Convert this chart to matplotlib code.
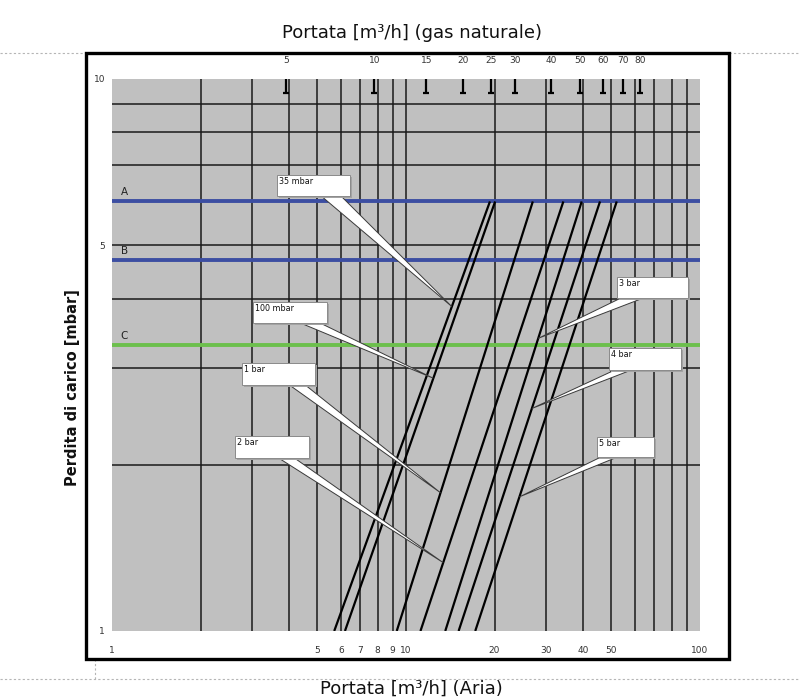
import numpy as np
import matplotlib
matplotlib.use("Agg")
import matplotlib.pyplot as plt
from matplotlib.patches import Rectangle, Polygon
from matplotlib.lines import Line2D
from matplotlib.path import Path
from matplotlib.transforms import Affine2D, blended_transform_factory

# ---------------- data ----------------
line_labels = ["35 mbar", "100 mbar", "1 bar", "2 bar", "3 bar", "4 bar", "5 bar"]
flow_at_low = [5.7, 6.2, 9.3, 11.2, 13.6, 15.1, 17.2]      # air flow [m3/h] at 1 mbar
flow_at_high = [19.3, 20.1, 27.0, 34.3, 39.6, 45.7, 52.1]  # air flow [m3/h] at 6 mbar
dp_low = 1.0
dp_high = 6.0
callout_tip_dp = [3.87, 2.87, 1.78, 1.33, 3.39, 2.53, 1.75]

ref_names = ["A", "B", "C"]
ref_values = [6.0, 4.7, 3.3]
ref_colors = ["#3c4ea2", "#3c4ea2", "#6cbf4c"]

x_tick_values = [1, 5, 6, 7, 8, 9, 10, 20, 30, 40, 50, 100]
y_tick_values = [1, 5, 10]
gas_tick_values = [5, 10, 15, 20, 25, 30, 40, 50, 60, 70, 80]
gas_to_air = 1.28
grid_x = [2, 3, 4, 5, 6, 7, 8, 9, 10, 20, 30, 40, 50, 60, 70, 80, 90]
grid_y = [2, 3, 4, 5, 6, 7, 8, 9]

# ---------------- layout ----------------
W, H = 800, 700
fig = plt.figure(figsize=(W / 100, H / 100), dpi=100)
fig.patch.set_facecolor("white")
px = Affine2D().scale(1 / W, -1 / H).translate(0, 1) + fig.transFigure

ax = fig.add_axes([112 / W, 1 - 631 / H, (700 - 112) / W, (631 - 79) / H])
ax.set_xscale("log")
ax.set_yscale("log")
ax.set_xlim(1, 100)
ax.set_ylim(1, 10)
ax.set_facecolor("#c0c0c0")
for s in ax.spines.values():
    s.set_visible(False)

for gx in grid_x:
    ax.axvline(gx, color="#1a1a1a", lw=1.1, zorder=1)
for gy in grid_y:
    ax.axhline(gy, color="#1a1a1a", lw=1.1, zorder=1)

ax.set_xticks(x_tick_values, labels=[str(v) for v in x_tick_values])
ax.set_xticks([], minor=True)
ax.set_yticks(y_tick_values, labels=[str(v) for v in y_tick_values])
ax.set_yticks([], minor=True)
ax.tick_params(axis="x", length=0, pad=11, labelsize=6.5, labelcolor="#333333")
ax.tick_params(axis="y", length=0, pad=5, labelsize=6.5, labelcolor="#333333")

sec = ax.secondary_xaxis("top", functions=(lambda x: x * gas_to_air,
                                           lambda x: x / gas_to_air))
sec.set_xticks(gas_tick_values, labels=[str(v) for v in gas_tick_values])
sec.set_xticks([], minor=True)
sec.tick_params(length=0, pad=10, labelsize=6.5, labelcolor="#333333")
for s in sec.spines.values():
    s.set_visible(False)

# gas tick markers (inverted T)
pin = Path([(0, 1), (0, -1), (-0.5, -1), (0.5, -1)],
           [Path.MOVETO, Path.LINETO, Path.MOVETO, Path.LINETO])
btrans = blended_transform_factory(ax.transData, ax.transAxes)
ax.plot(np.array(gas_tick_values) / gas_to_air, [0.987] * len(gas_tick_values),
        transform=btrans, ls="none", marker=pin, ms=10, mew=1.6, mec="black",
        clip_on=False, zorder=5)

# reference lines
for name, val, col in zip(ref_names, ref_values, ref_colors):
    ax.axhline(val, color=col, lw=2.8, zorder=3)
    ax.annotate(name, (1.07, val), xytext=(0, 3), textcoords="offset points",
                ha="left", va="bottom", fontsize=7.5, color="#222222", zorder=4)

# pressure lines
for f1, f2 in zip(flow_at_low, flow_at_high):
    ax.plot([f1, f2], [dp_low, dp_high], color="black", lw=1.6, zorder=4,
            solid_capstyle="butt")

# ---------------- callouts ----------------
# box (x0, y0, x1, y1) and wedge base (bx0, bx1) in figure pixels
callout_boxes = [
    (277, 175, 350, 196, 320, 340),
    (253, 302, 327, 323, 298, 318),
    (242, 363, 315, 385, 288, 304),
    (235, 436, 309, 458, 277, 293),
    (617, 277, 688, 298, 623, 646),
    (609, 348, 681, 370, 617, 634),
    (597, 437, 654, 457, 603, 620),
]

def flow_on_line(i, dp):
    t = (np.log(dp) - np.log(dp_low)) / (np.log(dp_high) - np.log(dp_low))
    return np.exp(np.log(flow_at_low[i]) + t * (np.log(flow_at_high[i]) - np.log(flow_at_low[i])))

for i, (lab, box) in enumerate(zip(line_labels, callout_boxes)):
    x0, y0, x1, y1, bx0, bx1 = box
    d = ax.transData.transform((flow_on_line(i, callout_tip_dp[i]), callout_tip_dp[i]))
    tip = (d[0], H - d[1])
    wedge = Polygon([(bx0, y1 - 1), (bx1, y1 - 1), tip], closed=True, transform=px,
                    facecolor="white", edgecolor="#3a3a3a", lw=0.7, zorder=10)
    fig.add_artist(wedge)
    shadow = Rectangle((x0 + 1.5, y0 + 1.5), x1 - x0, y1 - y0, transform=px,
                       facecolor="#a3a3a3", edgecolor="none", zorder=11)
    fig.add_artist(shadow)
    rect = Rectangle((x0, y0), x1 - x0, y1 - y0, transform=px,
                     facecolor="white", edgecolor="#8a8a8a", lw=0.7, zorder=12)
    fig.add_artist(rect)
    fig.text(x0 + 2, y0 + 2, lab, transform=px, ha="left", va="top",
             fontsize=5.8, color="#111111", zorder=13)

# ---------------- frame, titles ----------------
fig.add_artist(Rectangle((86, 53), 729 - 86, 659 - 53, transform=px, fill=False,
                         edgecolor="black", lw=2.4, zorder=20))

dot = dict(color="#b5b5b5", lw=0.8, linestyle=(0, (2, 2)), transform=px)
fig.add_artist(Line2D([0, 86], [53, 53], **dot))
fig.add_artist(Line2D([729, 800], [53, 53], **dot))
fig.add_artist(Line2D([0, 800], [679, 679], **dot))
fig.add_artist(Line2D([95, 95], [659, 679], **dot))

fig.text(412, 33, "Portata [m³/h] (gas naturale)", transform=px, ha="center",
         va="center", fontsize=13, color="#111111")
fig.text(411, 689, "Portata [m³/h] (Aria)", transform=px, ha="center",
         va="center", fontsize=13, color="#111111")
fig.text(72, 388, "Perdita di carico [mbar]", transform=px, ha="center",
         va="center", rotation=90, fontsize=10.5, fontweight="bold", color="#111111")

fig.savefig("out.png", dpi=100, facecolor="white")
